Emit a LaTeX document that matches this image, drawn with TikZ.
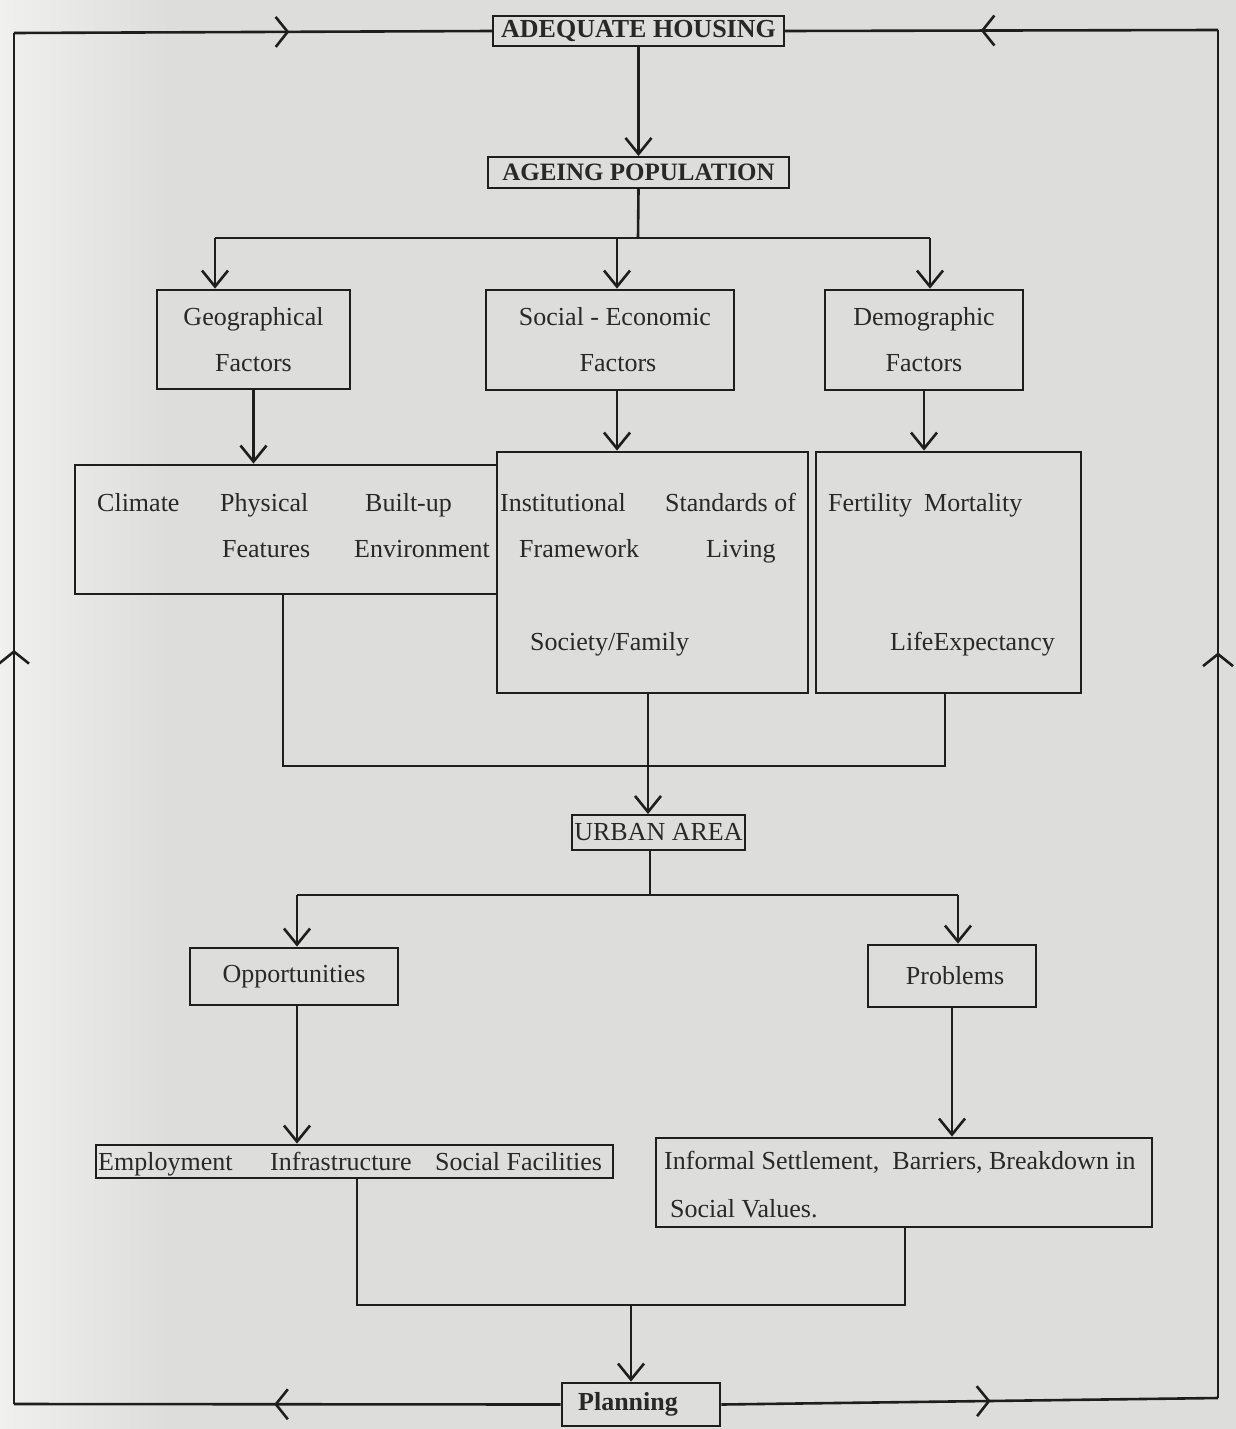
\documentclass[tikz,border=0pt]{standalone}
\usepackage{fontspec}
\setmainfont{Liberation Serif}
\usetikzlibrary{arrows.meta,decorations.markings}
\definecolor{paper}{RGB}{221,221,219}
\definecolor{paperlight}{RGB}{240,240,238}
\definecolor{ink}{RGB}{30,30,30}
\definecolor{txt}{RGB}{40,40,40}
\tikzset{
 plainbox/.style={draw=ink, line width=2.8pt, inner sep=0pt, text=txt, font=\fontsize{26}{46}\selectfont, align=center},
 headbox/.style={draw=ink, line width=2pt, inner sep=0pt, text=txt, font=\bfseries\fontsize{26}{30}\selectfont},
 lbl/.style={inner sep=0pt, text=txt, font=\fontsize{26}{30}\selectfont, anchor=base west},
 conn/.style={draw=ink, line width=2.6pt},
 arr/.style={conn, -{Straight Barb[length=16pt,width=26pt]}},
 midarr/.style={conn, postaction={decorate}, decoration={markings, mark=at position #1 with {\arrow{Straight Barb[length=12pt,width=30pt]}}}},
}
\begin{document}
\begin{tikzpicture}[x=1pt,y=-1pt]
\useasboundingbox (0,0) rectangle (1236,1429);
\fill[paper] (0,0) rectangle (1236,1429);
\shade[left color=paperlight, right color=paper] (0,0) rectangle (170,1429);

% heading boxes
\node[headbox, minimum width=291, minimum height=30] (adeq) at (638.5,31) {ADEQUATE HOUSING};
\node[headbox, minimum width=301, minimum height=31, font=\bfseries\fontsize{25}{30}\selectfont] (ageing) at (638.5,172.5) {AGEING POPULATION};
\node[headbox, minimum width=173, minimum height=35, font=\fontsize{26}{30}\selectfont] (urban) at (658.5,832.5) {URBAN AREA};
\node[headbox, minimum width=158, minimum height=43, line width=2.8pt] (plan) at (641,1404.5) {Planning\hspace*{26pt}};

% factor boxes
\node[plainbox, minimum width=193, minimum height=99] (geo) at (253.5,339.5) {Geographical\\Factors};
\node[plainbox, minimum width=248, minimum height=100] (soc) at (610,340) {\hspace*{10pt}Social - Economic\\\hspace*{16pt}Factors};
\node[plainbox, minimum width=198, minimum height=100] (dem) at (924,340) {Demographic\\Factors};

% big boxes
\node[plainbox, minimum width=422, minimum height=129] (env) at (286,529.5) {};
\node[plainbox, minimum width=311, minimum height=241] (inst) at (652.5,572.5) {};
\node[plainbox, minimum width=265, minimum height=241] (demo) at (948.5,572.5) {};

\node[lbl] (l1) at (97,511) {Climate};
\node[lbl] (l2) at (220,511) {Physical};
\node[lbl] (l3) at (365,511) {Built-up};
\node[lbl] (l4) at (222,557) {Features};
\node[lbl] (l5) at (354,557) {Environment};
\node[lbl] (l6) at (500,511) {Institutional};
\node[lbl] (l7) at (665,511) {Standards of};
\node[lbl] (l8) at (519,557) {Framework};
\node[lbl] (l9) at (706,557) {Living};
\node[lbl] (l10) at (530,650) {Society/Family};
\node[lbl] (l11) at (828,511) {Fertility};
\node[lbl] (l12) at (924,511) {Mortality};
\node[lbl] (l13) at (890,650) {LifeExpectancy};

% opportunities / problems
\node[plainbox, minimum width=208, minimum height=57] (opp) at (294,976.5) {Opportunities};
\node[plainbox, minimum width=168, minimum height=62] (prob) at (952,976) {\hspace*{6pt}Problems};

\node[plainbox, minimum width=517, minimum height=33] (emp) at (354.5,1161.5) {};
\node[lbl] (e1) at (98,1170) {Employment};
\node[lbl] (e2) at (270,1170) {Infrastructure};
\node[lbl] (e3) at (435,1170) {Social Facilities};

\node[plainbox, minimum width=496, minimum height=89] (inf) at (904,1182.5) {};
\node[lbl] (i1) at (664,1169) {Informal Settlement,\ \ Barriers, Breakdown in};
\node[lbl] (i2) at (670,1217) {Social Values.};

% coordinates
\coordinate (jC) at (638,238);
\coordinate (jL) at (215,238);
\coordinate (jM) at (617,238);
\coordinate (jR) at (930,238);
\coordinate (k1) at (283,766);
\coordinate (k2) at (945,766);
\coordinate (k3) at (648,766);
\coordinate (m) at (650,895);
\coordinate (mL) at (297,895);
\coordinate (mR) at (958,895);
\coordinate (n1) at (357,1305);
\coordinate (n2) at (905,1305);
\coordinate (n3) at (631,1305);
\coordinate (tl) at (14,33);
\coordinate (tr) at (1218,30);
\coordinate (bl) at (14,1404);
\coordinate (br) at (1218,1398);

% connectors
\draw[arr] (adeq.south) -- (ageing.north);
\draw[conn] (ageing.south) -- (jC);
\draw[conn] (jL) -- (jR);
\draw[arr] (jL) -- (jL |- geo.north);
\draw[arr] (jM) -- (jM |- soc.north);
\draw[arr] (jR) -- (jR |- dem.north);

\draw[arr] (geo.south) -- (geo.south |- env.north);
\draw[arr] (soc.south -| jM) -- (jM |- inst.north);
\draw[arr] (dem.south) -- (dem.south |- demo.north);

\draw[conn] (env.south -| k1) -- (k1) -- (k2) -- (demo.south -| k2);
\draw[arr] (inst.south -| k3) -- (k3 |- urban.north);

\draw[conn] (urban.south -| m) -- (m);
\draw[conn] (mL) -- (mR);
\draw[arr] (mL) -- (mL |- opp.north);
\draw[arr] (mR) -- (mR |- prob.north);

\draw[arr] (opp.south -| mL) -- (mL |- emp.north);
\draw[arr] (prob.south) -- (prob.south |- inf.north);

\draw[conn] (emp.south -| n1) -- (n1) -- (n2) -- (inf.south -| n2);
\draw[arr] (n3) -- (n3 |- plan.north);

% outer feedback loop
\draw[midarr=0.524] (plan.west) -- (bl);
\draw[midarr=0.55] (bl) -- (tl);
\draw[midarr=0.576] (tl) -- (adeq.west);
\draw[midarr=0.542] (plan.east) -- (br);
\draw[midarr=0.545] (br) -- (tr);
\draw[midarr=0.548] (tr) -- (adeq.east);
\end{tikzpicture}
\end{document}
